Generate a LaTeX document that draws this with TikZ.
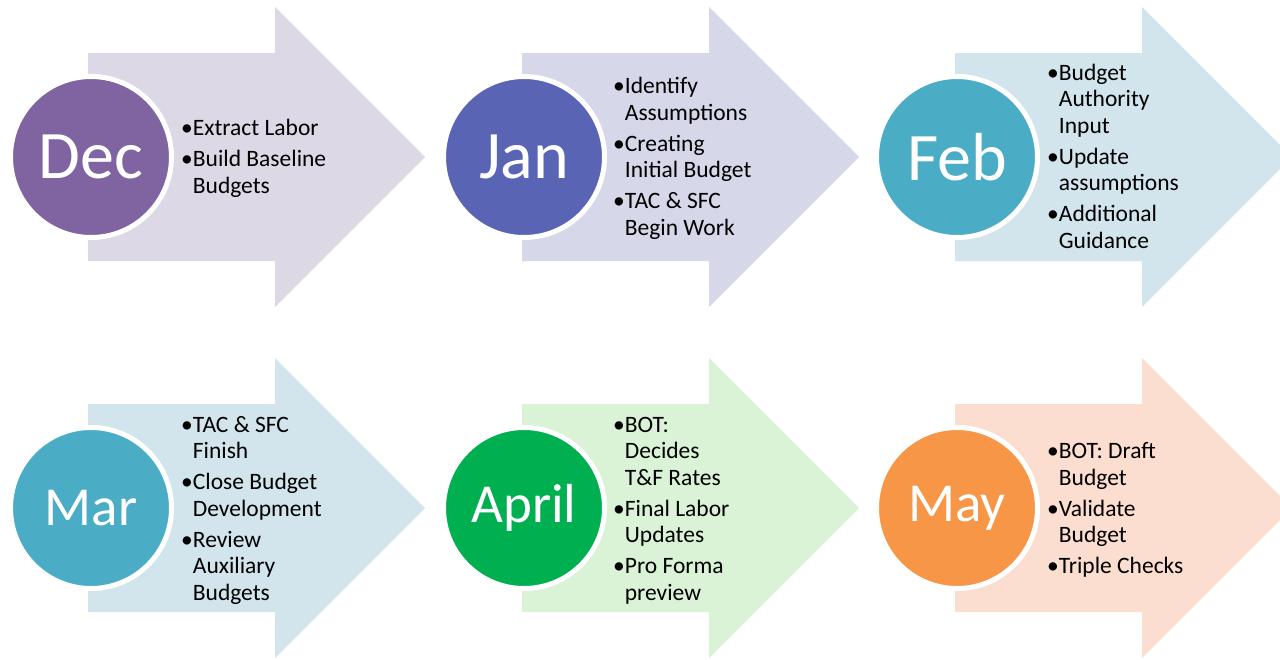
\documentclass[tikz,border=0pt]{standalone}
\usepackage{fontspec}
\setmainfont{Carlito}
\definecolor{decC}{RGB}{128,100,162}
\definecolor{decA}{RGB}{220,216,229}
\definecolor{janC}{RGB}{89,101,180}
\definecolor{janA}{RGB}{214,216,234}
\definecolor{febC}{RGB}{75,172,198}
\definecolor{febA}{RGB}{210,229,236}
\definecolor{aprC}{RGB}{0,176,80}
\definecolor{aprA}{RGB}{218,243,214}
\definecolor{mayC}{RGB}{247,150,70}
\definecolor{mayA}{RGB}{252,222,208}
\newcommand\monthArrow[3]{%
  \fill[#3, shift={(#1,#2)}] (0,-104) -- (187,-104) -- (187,-150) -- (337,0)
    -- (187,150) -- (187,104) -- (0,104) -- cycle;}
\begin{document}
\begin{tikzpicture}[x=1pt,y=-1pt]
\tikzset{
  month/.style={circle, fill=#1, draw=white, line width=5pt, minimum size=161pt,
    inner sep=0pt, text=white, font=\fontsize{68}{72}\selectfont},
  monthsmall/.style={month=#1, font=\fontsize{55}{60}\selectfont},
  bullets/.style={anchor=west, inner sep=0pt, font=\fontsize{23.5}{26.5}\selectfont, align=left}
}
\useasboundingbox (0,0) rectangle (1280,659);
% arrows
\monthArrow{88}{157}{decA}
\monthArrow{522}{157}{janA}
\monthArrow{955}{157}{febA}
\monthArrow{88}{508}{febA}
\monthArrow{522}{508}{aprA}
\monthArrow{955}{508}{mayA}
% circles
\node[month=decC] (dec) at (91,157) {Dec};
\node[month=janC] (jan) at (524,157) {Jan};
\node[month=febC] (feb) at (957,157) {Feb};
\node[monthsmall=febC] (mar) at (91,508) {Mar};
\node[monthsmall=aprC] (apr) at (524,508) {April};
\node[monthsmall=mayC] (may) at (957,508) {May};
% texts
\node[bullets] (tdec) at (181,159) {\begin{tabular}{@{}l@{}l@{}}
\textbullet & Extract Labor\\[4.5pt]
\textbullet & Build Baseline\\
 & Budgets
\end{tabular}};
\node[bullets] (tjan) at (613,159) {\begin{tabular}{@{}l@{}l@{}}
\textbullet & Identify\\
 & Assumptions\\[4.5pt]
\textbullet & Creating\\
 & Initial Budget\\[4.5pt]
\textbullet & TAC \& SFC\\
 & Begin Work
\end{tabular}};
\node[bullets] (tfeb) at (1047,159) {\begin{tabular}{@{}l@{}l@{}}
\textbullet & Budget\\
 & Authority\\
 & Input\\[4.5pt]
\textbullet & Update\\
 & assumptions\\[4.5pt]
\textbullet & Additional\\
 & Guidance
\end{tabular}};
\node[bullets] (tmar) at (181,511) {\begin{tabular}{@{}l@{}l@{}}
\textbullet & TAC \& SFC\\
 & Finish\\[4.5pt]
\textbullet & Close Budget\\
 & Development\\[4.5pt]
\textbullet & Review\\
 & Auxiliary\\
 & Budgets
\end{tabular}};
\node[bullets] (tapr) at (613,511) {\begin{tabular}{@{}l@{}l@{}}
\textbullet & BOT:\\
 & Decides\\
 & T\&F Rates\\[4.5pt]
\textbullet & Final Labor\\
 & Updates\\[4.5pt]
\textbullet & Pro Forma\\
 & preview
\end{tabular}};
\node[bullets] (tmay) at (1047,511) {\begin{tabular}{@{}l@{}l@{}}
\textbullet & BOT: Draft\\
 & Budget\\[4.5pt]
\textbullet & Validate\\
 & Budget\\[4.5pt]
\textbullet & Triple Checks
\end{tabular}};
\end{tikzpicture}
\end{document}
